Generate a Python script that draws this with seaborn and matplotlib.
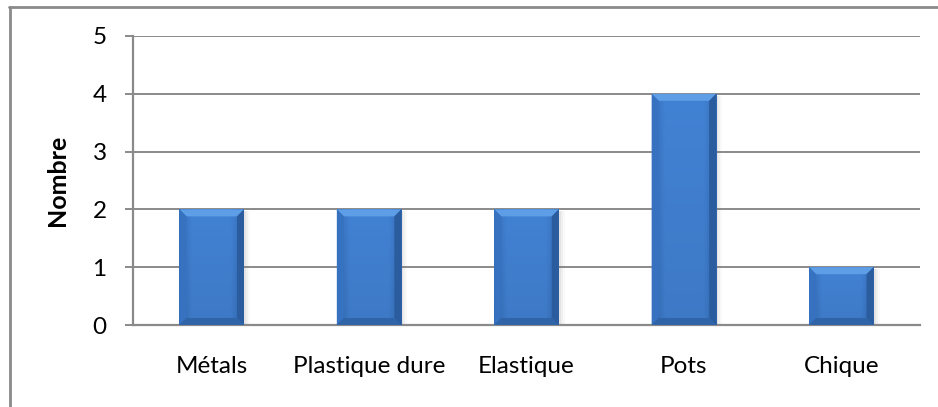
import numpy as np
import pandas as pd
import matplotlib
matplotlib.use("Agg")
import matplotlib.pyplot as plt
import seaborn as sns
from matplotlib.patches import Polygon, Rectangle
from matplotlib.lines import Line2D

categories = ["Métals", "Plastique dure", "Elastique", "Pots", "Chique"]
counts = [2, 2, 2, 4, 1]
y_ticks = [0, 1, 2, 3, 4, 5]
y_label = "Nombre"

sns.set_theme(style="white")
plt.rcParams["font.family"] = ["Lato", "DejaVu Sans"]

W, H, DPI = 938, 407, 100
fig = plt.figure(figsize=(W / DPI, H / DPI), dpi=DPI)
fig.patch.set_facecolor("white")

# plot area in pixels
L, R, T, B = 133, 920, 36, 325
ax = fig.add_axes([L / W, 1 - B / H, (R - L) / W, (B - T) / H])

df = pd.DataFrame({"categorie": categories, "nombre": counts})
sns.barplot(data=df, x="categorie", y="nombre", color="#3f7fd0",
            width=0.41, saturation=1, ax=ax, zorder=3)

ax.set_xlim(-0.5, len(categories) - 0.5)
ax.set_ylim(y_ticks[0], y_ticks[-1])
ax.set_yticks(y_ticks)
ax.set_xlabel("")
ax.set_ylabel(y_label, fontsize=18, fontweight="bold", color="black")
ax.yaxis.set_label_coords(-0.081, 0.5)

grey = "#8a8a8a"
ax.set_axisbelow(True)
ax.yaxis.grid(True, color=grey, lw=1.4)
ax.xaxis.grid(False)
for side in ("top", "right"):
    ax.spines[side].set_visible(False)
for side in ("left", "bottom"):
    ax.spines[side].set_color(grey)
    ax.spines[side].set_linewidth(1.6)
ax.tick_params(axis="y", left=True, length=6, width=1.4, color=grey,
               pad=13, labelsize=17.5, labelcolor="black")
ax.tick_params(axis="x", bottom=False, length=0, pad=22,
               labelsize=17.5, labelcolor="black")

# pixel -> data scale
dxp = (ax.get_xlim()[1] - ax.get_xlim()[0]) / (R - L)
dyp = (ax.get_ylim()[1] - ax.get_ylim()[0]) / (B - T)

# horizontal shading profile across each bar
prof_x = np.linspace(0, 1, 64)
edge = np.clip(np.minimum(prof_x, 1 - prof_x) / 0.2, 0, 1)
c_dark = np.array([0x33, 0x6c, 0xb8]) / 255
c_mid = np.array([0x42, 0x82, 0xd4]) / 255
row = c_dark[None, :] + (c_mid - c_dark)[None, :] * edge[:, None]

bev = 7
for p in list(ax.patches):
    x0, y0 = p.get_x(), p.get_y()
    w, h = p.get_width(), p.get_height()
    x1, y1 = x0 + w, y0 + h
    p.set_edgecolor("none")
    # soft shadow on the right
    for k, a in enumerate([0.10, 0.07, 0.04]):
        ax.add_patch(Rectangle((x0 + (2 + k * 2) * dxp, y0), w, h - 2 * dyp,
                               facecolor="#7a7a7a", alpha=a, lw=0, zorder=2))
    nrows = 40
    vshade = np.linspace(1.0, 0.93, nrows)[:, None, None]
    img = row[None, :, :] * vshade
    im = ax.imshow(img, extent=(x0, x1, y0, y1), aspect="auto",
                   interpolation="bilinear", zorder=4, origin="upper")
    im.set_clip_path(p)
    bx, by = bev * dxp, bev * dyp
    # bevelled rim
    ax.add_patch(Polygon([(x0, y1), (x1, y1), (x1 - bx, y1 - by), (x0 + bx, y1 - by)],
                         closed=True, facecolor="#5e9ee7", lw=0, zorder=5))
    ax.add_patch(Polygon([(x0, y0), (x0, y1), (x0 + bx, y1 - by), (x0 + bx, y0 + by)],
                         closed=True, facecolor="#3672c0", lw=0, zorder=5))
    ax.add_patch(Polygon([(x1, y0), (x1, y1), (x1 - bx, y1 - by), (x1 - bx, y0 + by)],
                         closed=True, facecolor="#2b5c9d", lw=0, zorder=5))
    ax.add_patch(Polygon([(x0, y0), (x1, y0), (x1 - bx, y0 + by), (x0 + bx, y0 + by)],
                         closed=True, facecolor="#2f64a8", lw=0, zorder=5))

# outer frame of the chart
fig.add_artist(Line2D([9 / W, 1], [1 - 6.5 / H, 1 - 6.5 / H], transform=fig.transFigure,
                      color=grey, lw=2))
fig.add_artist(Line2D([9.5 / W, 9.5 / W], [0, 1 - 6.5 / H], transform=fig.transFigure,
                      color=grey, lw=2))

fig.savefig("out.png", dpi=DPI, facecolor="white")
